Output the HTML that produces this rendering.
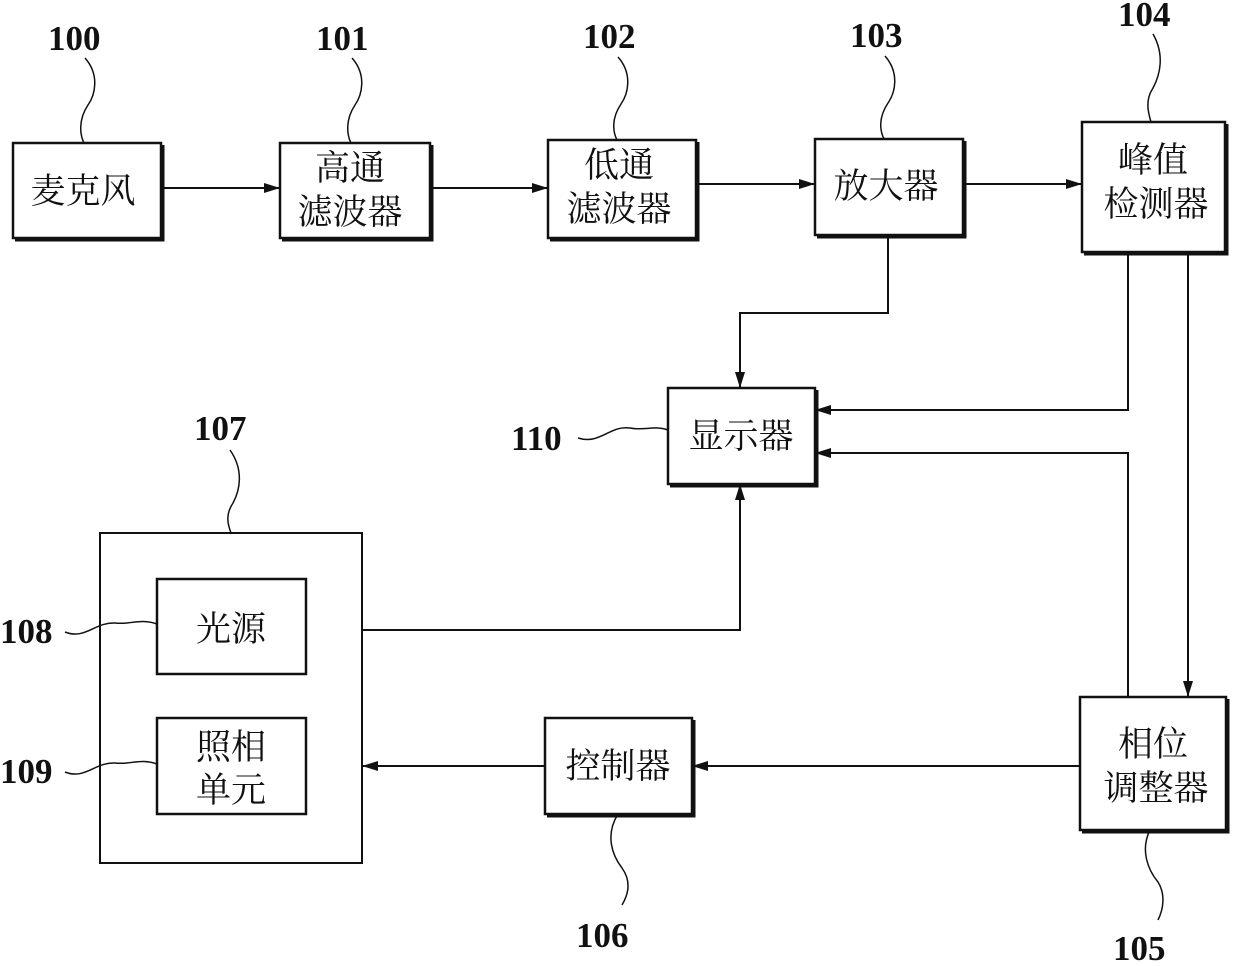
<!DOCTYPE html>
<html><head><meta charset="utf-8"><style>
html,body{margin:0;padding:0;background:#fff;}
svg{display:block;}
text{font-family:"Liberation Serif","Noto Serif CJK SC",serif;fill:#111;}
.cn{font-family:"Liberation Serif","Noto Serif CJK SC",serif;font-size:35px;}
.num{font-size:35px;font-weight:bold;}
</style></head><body>
<svg width="1240" height="966" viewBox="0 0 1240 966" xmlns="http://www.w3.org/2000/svg">
<defs>
<marker id="a" markerWidth="16" markerHeight="10" refX="16" refY="5" orient="auto" markerUnits="userSpaceOnUse">
<path d="M0,0 L16,5 L0,10 z" fill="#111"/></marker>
</defs>
<g fill="#fff" stroke="#111" stroke-width="2.5">
<g fill="none" stroke-width="3">
<path d="M163,145 V240 H15"/><path d="M432,145 V240 H282"/><path d="M698,142 V240 H550"/>
<path d="M965,141 V237 H817"/><path d="M1227,124 V254 H1084"/><path d="M817,390 V486 H670"/>
<path d="M308,581 V676 H159"/><path d="M308,720 V816 H159"/><path d="M694,720 V816 H547"/>
<path d="M1228,699 V832 H1082"/>
</g>
<rect x="13" y="143" width="148" height="95"/>
<rect x="280" y="143" width="150" height="95"/>
<rect x="548" y="140" width="148" height="98"/>
<rect x="815" y="139" width="148" height="96"/>
<rect x="1082" y="122" width="143" height="130"/>
<rect x="668" y="388" width="147" height="96"/>
<rect x="100" y="533" width="262" height="330" stroke-width="2"/>
<rect x="157" y="579" width="149" height="95"/>
<rect x="157" y="718" width="149" height="96"/>
<rect x="545" y="718" width="147" height="96"/>
<rect x="1080" y="697" width="146" height="133"/>
</g>
<g fill="none" stroke="#111" stroke-width="2">
<line x1="163" y1="188" x2="280" y2="188" marker-end="url(#a)"/>
<line x1="432" y1="188" x2="548" y2="188" marker-end="url(#a)"/>
<line x1="698" y1="184" x2="815" y2="184" marker-end="url(#a)"/>
<line x1="965" y1="184" x2="1082" y2="184" marker-end="url(#a)"/>
<polyline points="888,237 888,313 740,313 740,388" marker-end="url(#a)"/>
<polyline points="1128,254 1128,410 815,410" marker-end="url(#a)"/>
<polyline points="1128,697 1128,453 815,453" marker-end="url(#a)"/>
<line x1="1188" y1="254" x2="1188" y2="697" marker-end="url(#a)"/>
<polyline points="362,630 740,630 740,484" marker-end="url(#a)"/>
<line x1="1080" y1="766" x2="692" y2="766" marker-end="url(#a)"/>
<line x1="545" y1="766" x2="362" y2="766" marker-end="url(#a)"/>
<path d="M85,58 C100,75 95,95 88,105 C78,120 80,135 84,143" stroke-width="1.5"/>
<path d="M352,58 C367,75 362,95 355,105 C345,120 347,135 351,143" stroke-width="1.5"/>
<path d="M618,57 C633,74 628,94 621,104 C611,119 613,132 617,140" stroke-width="1.5"/>
<path d="M885,56 C900,73 895,93 888,103 C878,118 880,131 884,139" stroke-width="1.5"/>
<path d="M1153,34 C1165,55 1160,75 1153,88 C1145,100 1148,112 1151,122" stroke-width="1.5"/>
<path d="M230,450 C244,470 240,490 233,503 C225,515 228,525 231,533" stroke-width="1.5"/>
<path d="M578,438 C600,445 610,425 630,428 C645,431 655,425 668,430" stroke-width="1.5"/>
<path d="M65,632 C85,640 95,622 115,623 C130,625 140,618 157,624" stroke-width="1.5"/>
<path d="M65,772 C85,780 95,762 115,763 C130,765 140,758 157,764" stroke-width="1.5"/>
<path d="M618,814 C605,835 612,855 622,868 C632,882 628,895 622,905" stroke-width="1.5"/>
<path d="M1150,830 C1140,850 1148,870 1158,882 C1166,895 1163,910 1158,920" stroke-width="1.5"/>
</g>
<g class="num">
<text x="48" y="50">100</text><text x="316" y="50">101</text><text x="583" y="48">102</text>
<text x="850" y="47">103</text><text x="1118" y="26">104</text><text x="194" y="440">107</text>
<text x="511" y="450">110</text><text x="0" y="643">108</text><text x="0" y="783">109</text>
<text x="576" y="947">106</text><text x="1113" y="960">105</text>
</g>
<g class="cn" text-anchor="middle">
<text x="83" y="203">麦克风</text>
<text x="350" y="180">高通</text><text x="350" y="224">滤波器</text>
<text x="619" y="177">低通</text><text x="619" y="221">滤波器</text>
<text x="886" y="198">放大器</text>
<text x="1153" y="172">峰值</text><text x="1156" y="216">检测器</text>
<text x="741" y="448">显示器</text>
<text x="231" y="641">光源</text>
<text x="231" y="759">照相</text><text x="231" y="802">单元</text>
<text x="618" y="778">控制器</text>
<text x="1153" y="756">相位</text><text x="1156" y="800">调整器</text>
</g>
</svg>
</body></html>
